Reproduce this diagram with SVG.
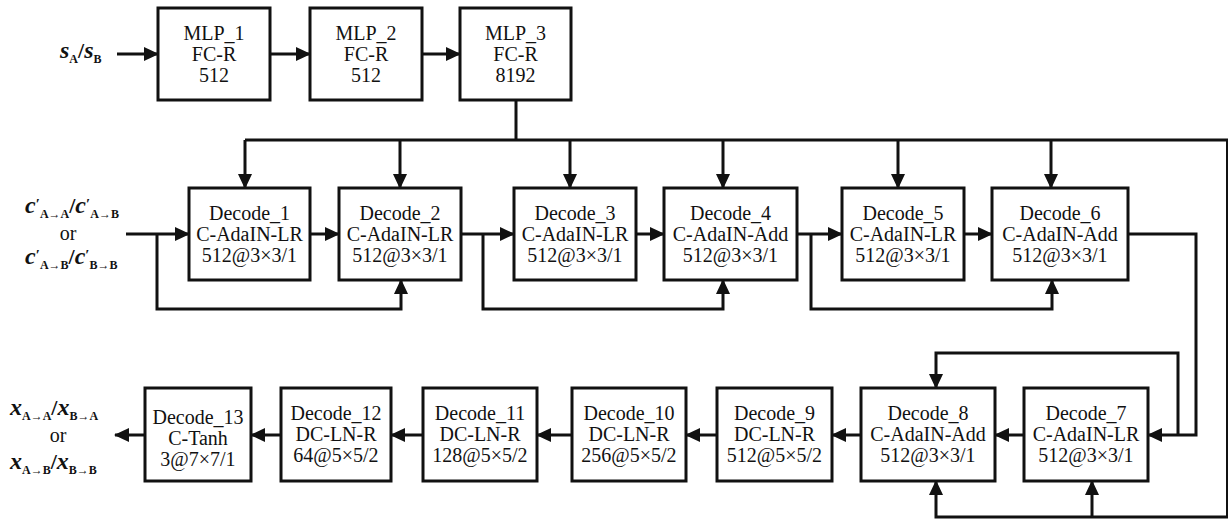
<svg xmlns="http://www.w3.org/2000/svg" width="1228" height="521" viewBox="0 0 1228 521" font-family="Liberation Serif, serif">
<style>
.box{fill:#fff;stroke:#111;stroke-width:3}
.t{font-size:20px;text-anchor:middle;fill:#111}
.w{fill:none;stroke:#111;stroke-width:3}
.a{marker-end:url(#ah)}
.io{font-weight:bold;fill:#111}
</style>
<defs>
<marker id="ah" markerUnits="userSpaceOnUse" markerWidth="16" markerHeight="14" refX="14" refY="7" orient="auto">
<path d="M0,0 L15,7 L0,14 z" fill="#111"/>
</marker>
</defs>
<rect width="1228" height="521" fill="#fff"/>

<g id="connectors">
<path class="w a" d="M117,54 H158"/>
<path class="w a" d="M270,54 H310"/>
<path class="w a" d="M422,54 H460"/>
<path class="w" d="M516,100 V140"/>
<path class="w" d="M245,140 H1227.5 V517"/>
<path class="w a" d="M245,140 V188"/>
<path class="w a" d="M400,140 V188"/>
<path class="w a" d="M570,140 V188"/>
<path class="w a" d="M723,140 V188"/>
<path class="w a" d="M898,140 V188"/>
<path class="w a" d="M1051,140 V188"/>
<path class="w a" d="M126,234 H189"/>
<path class="w a" d="M157,234 V309 H401 V280"/>
<path class="w a" d="M310,234 H339"/>
<path class="w a" d="M461,234 H514"/>
<path class="w a" d="M483,234 V309 H723 V280"/>
<path class="w a" d="M636,234 H664"/>
<path class="w a" d="M797,234 H842"/>
<path class="w a" d="M811,234 V309 H1052 V280"/>
<path class="w a" d="M964,234 H992"/>
<path class="w a" d="M1128,234 H1196 V435 H1148"/>
<path class="w a" d="M1178,435 V353 H936 V388"/>
<path class="w a" d="M1024,435 H995"/>
<path class="w a" d="M1228,517 H936 V481"/>
<path class="w a" d="M1092,517 V481"/>
<path class="w a" d="M861,435 H832"/>
<path class="w a" d="M717,435 H686"/>
<path class="w a" d="M572,435 H537"/>
<path class="w a" d="M423,435 H391"/>
<path class="w a" d="M281,435 H251"/>
<path class="w a" d="M145,435 H115"/>
</g>

<g id="in_s">
<text class="io" x="60" y="58"><tspan font-style="italic" font-size="24">s</tspan><tspan font-size="12" dy="5">A</tspan><tspan font-size="22" dy="-5">/</tspan><tspan font-style="italic" font-size="24">s</tspan><tspan font-size="12" dy="5">B</tspan></text>
</g>

<g id="in_c">
<text class="io" x="25" y="213"><tspan font-style="italic" font-size="24">c</tspan><tspan font-size="15" dy="-4">′</tspan><tspan font-size="12" dy="9">A→A</tspan><tspan font-size="22" dy="-5">/</tspan><tspan font-style="italic" font-size="24">c</tspan><tspan font-size="15" dy="-4">′</tspan><tspan font-size="12" dy="9">A→B</tspan></text>
<text class="t" x="68" y="240">or</text>
<text class="io" x="25" y="264"><tspan font-style="italic" font-size="24">c</tspan><tspan font-size="15" dy="-4">′</tspan><tspan font-size="12" dy="9">A→B</tspan><tspan font-size="22" dy="-5">/</tspan><tspan font-style="italic" font-size="24">c</tspan><tspan font-size="15" dy="-4">′</tspan><tspan font-size="12" dy="9">B→B</tspan></text>
</g>

<g id="out_x">
<text class="io" x="10" y="415"><tspan font-style="italic" font-size="24">x</tspan><tspan font-size="12" dy="5">A→A</tspan><tspan font-size="22" dy="-5">/</tspan><tspan font-style="italic" font-size="24">x</tspan><tspan font-size="12" dy="5">B→A</tspan></text>
<text class="t" x="58" y="442">or</text>
<text class="io" x="10" y="469"><tspan font-style="italic" font-size="24">x</tspan><tspan font-size="12" dy="5">A→B</tspan><tspan font-size="22" dy="-5">/</tspan><tspan font-style="italic" font-size="24">x</tspan><tspan font-size="12" dy="5">B→B</tspan></text>
</g>

<g id="MLP_1"><rect class="box" x="158" y="8" width="112" height="92"/><text class="t" x="214" y="40">MLP_1</text><text class="t" x="214" y="61">FC-R</text><text class="t" x="214" y="82">512</text></g>
<g id="MLP_2"><rect class="box" x="310" y="8" width="112" height="92"/><text class="t" x="366" y="40">MLP_2</text><text class="t" x="366" y="61">FC-R</text><text class="t" x="366" y="82">512</text></g>
<g id="MLP_3"><rect class="box" x="460" y="8" width="111" height="92"/><text class="t" x="515.5" y="40">MLP_3</text><text class="t" x="515.5" y="61">FC-R</text><text class="t" x="515.5" y="82">8192</text></g>

<g id="Decode_1"><rect class="box" x="189" y="188" width="121" height="92"/><text class="t" x="249.5" y="220">Decode_1</text><text class="t" x="249.5" y="241">C-AdaIN-LR</text><text class="t" x="249.5" y="262">512@3×3/1</text></g>
<g id="Decode_2"><rect class="box" x="339" y="188" width="122" height="92"/><text class="t" x="400" y="220">Decode_2</text><text class="t" x="400" y="241">C-AdaIN-LR</text><text class="t" x="400" y="262">512@3×3/1</text></g>
<g id="Decode_3"><rect class="box" x="514" y="188" width="122" height="92"/><text class="t" x="575" y="220">Decode_3</text><text class="t" x="575" y="241">C-AdaIN-LR</text><text class="t" x="575" y="262">512@3×3/1</text></g>
<g id="Decode_4"><rect class="box" x="664" y="188" width="133" height="92"/><text class="t" x="730.5" y="220">Decode_4</text><text class="t" x="730.5" y="241">C-AdaIN-Add</text><text class="t" x="730.5" y="262">512@3×3/1</text></g>
<g id="Decode_5"><rect class="box" x="842" y="188" width="122" height="92"/><text class="t" x="903" y="220">Decode_5</text><text class="t" x="903" y="241">C-AdaIN-LR</text><text class="t" x="903" y="262">512@3×3/1</text></g>
<g id="Decode_6"><rect class="box" x="992" y="188" width="136" height="92"/><text class="t" x="1060" y="220">Decode_6</text><text class="t" x="1060" y="241">C-AdaIN-Add</text><text class="t" x="1060" y="262">512@3×3/1</text></g>

<g id="Decode_7"><rect class="box" x="1024" y="388" width="124" height="93"/><text class="t" x="1086" y="420">Decode_7</text><text class="t" x="1086" y="441">C-AdaIN-LR</text><text class="t" x="1086" y="462">512@3×3/1</text></g>
<g id="Decode_8"><rect class="box" x="861" y="388" width="134" height="93"/><text class="t" x="928" y="420">Decode_8</text><text class="t" x="928" y="441">C-AdaIN-Add</text><text class="t" x="928" y="462">512@3×3/1</text></g>
<g id="Decode_9"><rect class="box" x="717" y="388" width="115" height="93"/><text class="t" x="774.5" y="420">Decode_9</text><text class="t" x="774.5" y="441">DC-LN-R</text><text class="t" x="774.5" y="462">512@5×5/2</text></g>
<g id="Decode_10"><rect class="box" x="572" y="388" width="114" height="93"/><text class="t" x="629" y="420">Decode_10</text><text class="t" x="629" y="441">DC-LN-R</text><text class="t" x="629" y="462">256@5×5/2</text></g>
<g id="Decode_11"><rect class="box" x="423" y="388" width="114" height="93"/><text class="t" x="480" y="420">Decode_11</text><text class="t" x="480" y="441">DC-LN-R</text><text class="t" x="480" y="462">128@5×5/2</text></g>
<g id="Decode_12"><rect class="box" x="281" y="388" width="110" height="93"/><text class="t" x="336" y="420">Decode_12</text><text class="t" x="336" y="441">DC-LN-R</text><text class="t" x="336" y="462">64@5×5/2</text></g>
<g id="Decode_13"><rect class="box" x="145" y="388" width="106" height="93"/><text class="t" x="198" y="424">Decode_13</text><text class="t" x="198" y="445">C-Tanh</text><text class="t" x="198" y="466">3@7×7/1</text></g>
</svg>
